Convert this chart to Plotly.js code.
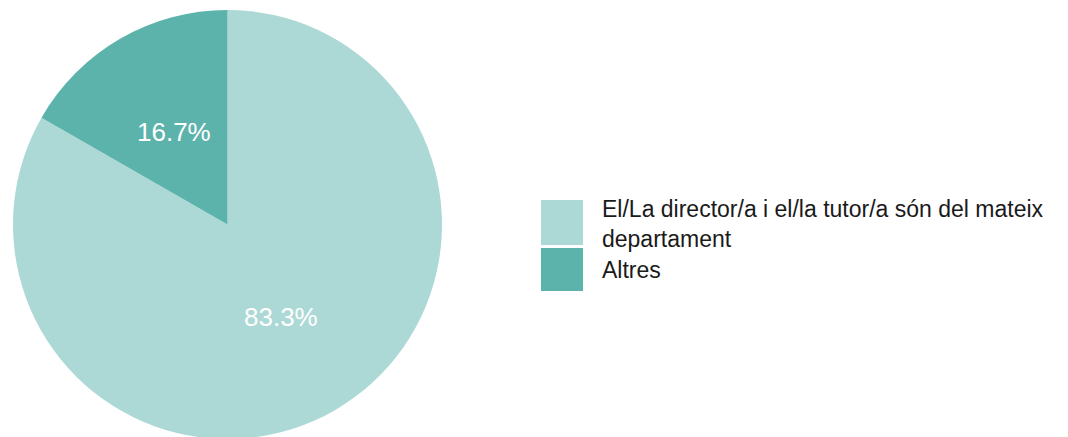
<!DOCTYPE html>
<html>
<head>
<meta charset="utf-8">
<script src="https://cdn.plot.ly/plotly-3.0.1.min.js"></script>
<style>
html,body{margin:0;padding:0;overflow:hidden;background:#fff;}
#chart{width:1068px;height:441px;}
</style>
</head>
<body>
<div id="chart"></div>
<script>
// Data
const categories = ["El/La director/a i el/la tutor/a són del mateix departament", "Altres"];
const values = [83.3, 16.7];
const colors = ["#acd9d6", "#5cb3ab"];

const W = 1068, H = 441;
const px = x => x / W;
const py = y => 1 - y / H;

function wrap(text, maxChars) {
  const words = text.split(" ");
  const lines = [];
  let cur = "";
  for (const w of words) {
    if (cur && (cur + " " + w).length > maxChars) { lines.push(cur); cur = w; }
    else cur = cur ? cur + " " + w : w;
  }
  if (cur) lines.push(cur);
  return lines;
}

const font = "Liberation Sans, Arial, sans-serif";

// pie geometry (pixels)
const cx = 227.5, cy = 224.5, R = 214.5;

const trace = {
  type: "pie",
  labels: categories,
  values: values,
  marker: {colors: colors, line: {width: 0}},
  sort: false,
  direction: "clockwise",
  rotation: 0,
  textinfo: "none",
  hoverinfo: "none",
  showlegend: false,
  domain: {x: [px(cx - R), px(cx + R)], y: [py(cy + R), py(cy - R)]}
};

const shapes = [];
const annotations = [];

// slice labels at mid-angle, half radius
const total = values.reduce((a, b) => a + b, 0);
let cum = 0;
values.forEach((v, i) => {
  const mid = (cum + v / 2) / total * 2 * Math.PI; // clockwise from top
  cum += v;
  const x = cx + 0.5 * R * Math.sin(mid);
  const y = cy - 0.5 * R * Math.cos(mid);
  annotations.push({xref: "paper", yref: "paper", x: px(x), y: py(y),
    xanchor: "center", yanchor: "middle", showarrow: false,
    text: (v / total * 100).toFixed(1) + "%",
    font: {family: font, size: 26, color: "#ffffff"}});
});

// custom legend
const legX0 = 541, legX1 = 583;
const boxes = [[200, 245], [248, 291]];
const textCenters = [223.5, 270];
categories.forEach((c, i) => {
  shapes.push({type: "rect", xref: "paper", yref: "paper",
    x0: px(legX0), x1: px(legX1), y0: py(boxes[i][1]), y1: py(boxes[i][0]),
    fillcolor: colors[i], line: {width: 0}});
  annotations.push({xref: "paper", yref: "paper", x: px(600), y: py(textCenters[i]),
    xanchor: "left", yanchor: "middle", align: "left", showarrow: false,
    text: wrap(c, 47).join("<br>"),
    font: {family: font, size: 23, color: "#1a1a1a"}});
});

const layout = {
  width: W, height: H,
  margin: {l: 0, r: 0, t: 0, b: 0},
  paper_bgcolor: "#ffffff",
  plot_bgcolor: "#ffffff",
  showlegend: false,
  shapes: shapes,
  annotations: annotations
};

Plotly.newPlot("chart", [trace], layout, {displayModeBar: false, staticPlot: true});
</script>
</body>
</html>
